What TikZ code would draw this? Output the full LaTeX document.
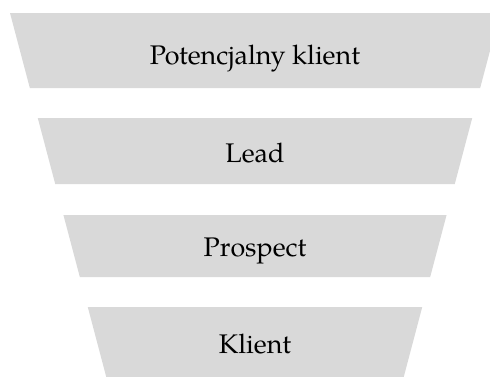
\documentclass[tikz,border=0pt]{standalone}
\usepackage{fontspec}
\setmainfont{TeX Gyre Pagella}
\definecolor{funnelgray}{HTML}{D9D9D9}
\tikzset{
  band/.style={fill=funnelgray},
  label/.style={anchor=base, font=\fontsize{26.9}{31}\selectfont, text=black, inner sep=0pt}
}
\begin{document}
\begin{tikzpicture}[x=1pt,y=-1pt]
\useasboundingbox (0,0) rectangle (490,376);
\clip (0,0) rectangle (490,376);
\foreach \t/\b in {13/88,118/184,215/277,307/380}{
  \fill[band] ({10+0.2645*(\t-13)},\t) -- ({500-0.2645*(\t-13)},\t) -- ({500-0.2645*(\b-13)},\b) -- ({10+0.2645*(\b-13)},\b) -- cycle;
}
\node[label] (t1) at (255,64.3) {Potencjalny klient};
\node[label] (t2) at (255,162.3) {Lead};
\node[label] (t3) at (255,256) {Prospect};
\node[label] (t4) at (255,353) {Klient};
\end{tikzpicture}
\end{document}
